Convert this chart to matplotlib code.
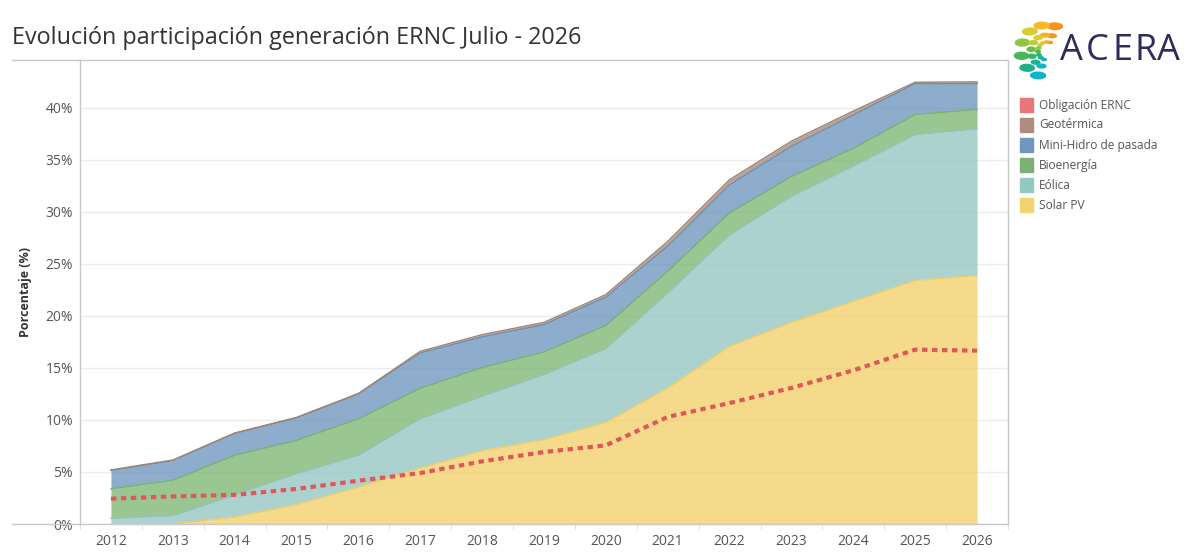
import numpy as np
import matplotlib
matplotlib.use("Agg")
import matplotlib.pyplot as plt
from matplotlib.lines import Line2D
from matplotlib.patches import Rectangle, Ellipse
from matplotlib.colors import LinearSegmentedColormap

plt.rcParams['font.family'] = ['Open Sans', 'DejaVu Sans']

# Data (% of generation)
years = [2012, 2013, 2014, 2015, 2016, 2017, 2018, 2019, 2020, 2021, 2022, 2023, 2024, 2025, 2026]
solar = [0.0, 0.0, 0.67, 1.86, 3.56, 5.38, 7.05, 8.1, 9.77, 13.08, 17.08, 19.38, 21.4, 23.42, 23.88]
eolica = [0.54, 0.8, 2.13, 2.98, 3.04, 4.74, 5.22, 6.26, 7.09, 9.12, 10.72, 12.12, 13.0, 14.01, 14.12]
bioenergia = [2.83, 3.4, 3.8, 3.2, 3.5, 2.92, 2.76, 2.18, 2.21, 2.09, 2.1, 1.9, 1.7, 1.93, 1.84]
minihidro = [1.78, 1.9, 2.1, 2.16, 2.4, 3.4, 2.95, 2.62, 2.73, 2.41, 2.7, 2.9, 3.2, 2.98, 2.5]
geotermica = [0.05, 0.05, 0.05, 0.05, 0.05, 0.16, 0.22, 0.22, 0.25, 0.47, 0.5, 0.5, 0.4, 0.12, 0.16]
obligacion = [2.43, 2.65, 2.8, 3.37, 4.16, 4.9, 6.02, 6.92, 7.56, 10.29, 11.63, 13.08, 14.77, 16.76, 16.66]

series = [
    ("Solar PV", solar, "#F1CE63"),
    ("Eólica", eolica, "#91C3BF"),
    ("Bioenergía", bioenergia, "#78B46C"),
    ("Mini-Hidro de pasada", minihidro, "#6991BA"),
    ("Geotérmica", geotermica, "#A08474"),
]
obl_color = "#E15759"

W, H = 1199, 559
fig = plt.figure(figsize=(W / 100, H / 100), dpi=100)
ax = fig.add_axes([80 / W, 1 - 524 / H, (1008 - 80) / W, (524 - 60) / H])

# stacked areas
base = np.zeros(len(years))
for name, vals, col in series:
    top = base + np.array(vals)
    ax.fill_between(years, base, top, color=col, alpha=0.75, linewidth=0, zorder=2)
    ax.plot(years, top, color=col, lw=1, zorder=3)
    base = top

ax.plot(years, obligacion, color=obl_color, lw=3, linestyle=(0, (1.3, 1.1)), zorder=4)

ax.set_xlim(2011.5, 2026.5)
ax.set_ylim(0, 44.6)
ax.set_yticks(np.arange(0, 45, 5))
ax.set_yticklabels([f"{v}%" for v in range(0, 45, 5)])
ax.set_xticks(years)
ax.set_xticks(np.arange(2011.5, 2027, 1), minor=True)
ax.tick_params(axis='x', which='major', length=0, pad=7, labelsize=10, labelcolor="#555555")
ax.tick_params(axis='x', which='minor', length=4, color="#dddddd")
ax.tick_params(axis='y', length=0, pad=5, labelsize=10, labelcolor="#555555")
ax.grid(axis='y', color="#ececec", lw=1, zorder=0)
ax.set_axisbelow(True)
for s in ax.spines.values():
    s.set_color("#c8c8c8")
    s.set_linewidth(1)
ax.set_ylabel("Porcentaje (%)", fontsize=9, fontweight='bold', color="#333333", labelpad=10)

# extended top / bottom rules like the dashboard
fig.add_artist(Line2D([12 / W, 80 / W], [1 - 60 / H] * 2, color="#c8c8c8", lw=1))
fig.add_artist(Line2D([12 / W, 80 / W], [1 - 524 / H] * 2, color="#c8c8c8", lw=1))

fig.text(12 / W, 1 - 38 / H, "Evolución participación generación ERNC Julio - 2026",
         fontsize=16.85, color="#333333", va='center', ha='left')

# legend
leg_items = [("Obligación ERNC", "#E8767A"), ("Geotérmica", "#AD8E7E"),
             ("Mini-Hidro de pasada", "#7097BE"), ("Bioenergía", "#7AB371"),
             ("Eólica", "#93C9C3"), ("Solar PV", "#F2D36E")]
for i, (name, col) in enumerate(leg_items):
    yc = 105 + 20 * i
    fig.add_artist(Rectangle((1020 / W, 1 - (yc + 7) / H), 13 / W, 14 / H,
                             color=col, transform=fig.transFigure))
    fig.text(1039 / W, 1 - yc / H, name, fontsize=8.6, color="#555555", va='center', ha='left')

# ACERA logo
logo_cmap = LinearSegmentedColormap.from_list(
    "acera", ["#F7941D", "#F6C12C", "#C9D23A", "#5DB947", "#1FB27E", "#12B4C9"])
cx, cy = 1047, 51
for r, lw_, lh_, n in [(26, 14, 7, 7), (16, 8, 4.2, 8), (9, 4.5, 2.4, 9)]:
    angs = np.linspace(72, 250, n)
    for a in angs:
        col = logo_cmap((a - 72) / (250 - 72))
        px = cx + r * np.cos(np.radians(a))
        py = cy - r * np.sin(np.radians(a))
        fig.add_artist(Ellipse((px / W, 1 - py / H), lw_ / W, lh_ / H, angle=a,
                               color=col, transform=fig.transFigure))
for letter, xc in zip("ACERA", [1071, 1097, 1123, 1146, 1168]):
    fig.text(xc / W, 1 - 51 / H, letter, fontsize=26, color="#2E2B5F",
             va='center', ha='center')

fig.savefig("out.png", dpi=100)
